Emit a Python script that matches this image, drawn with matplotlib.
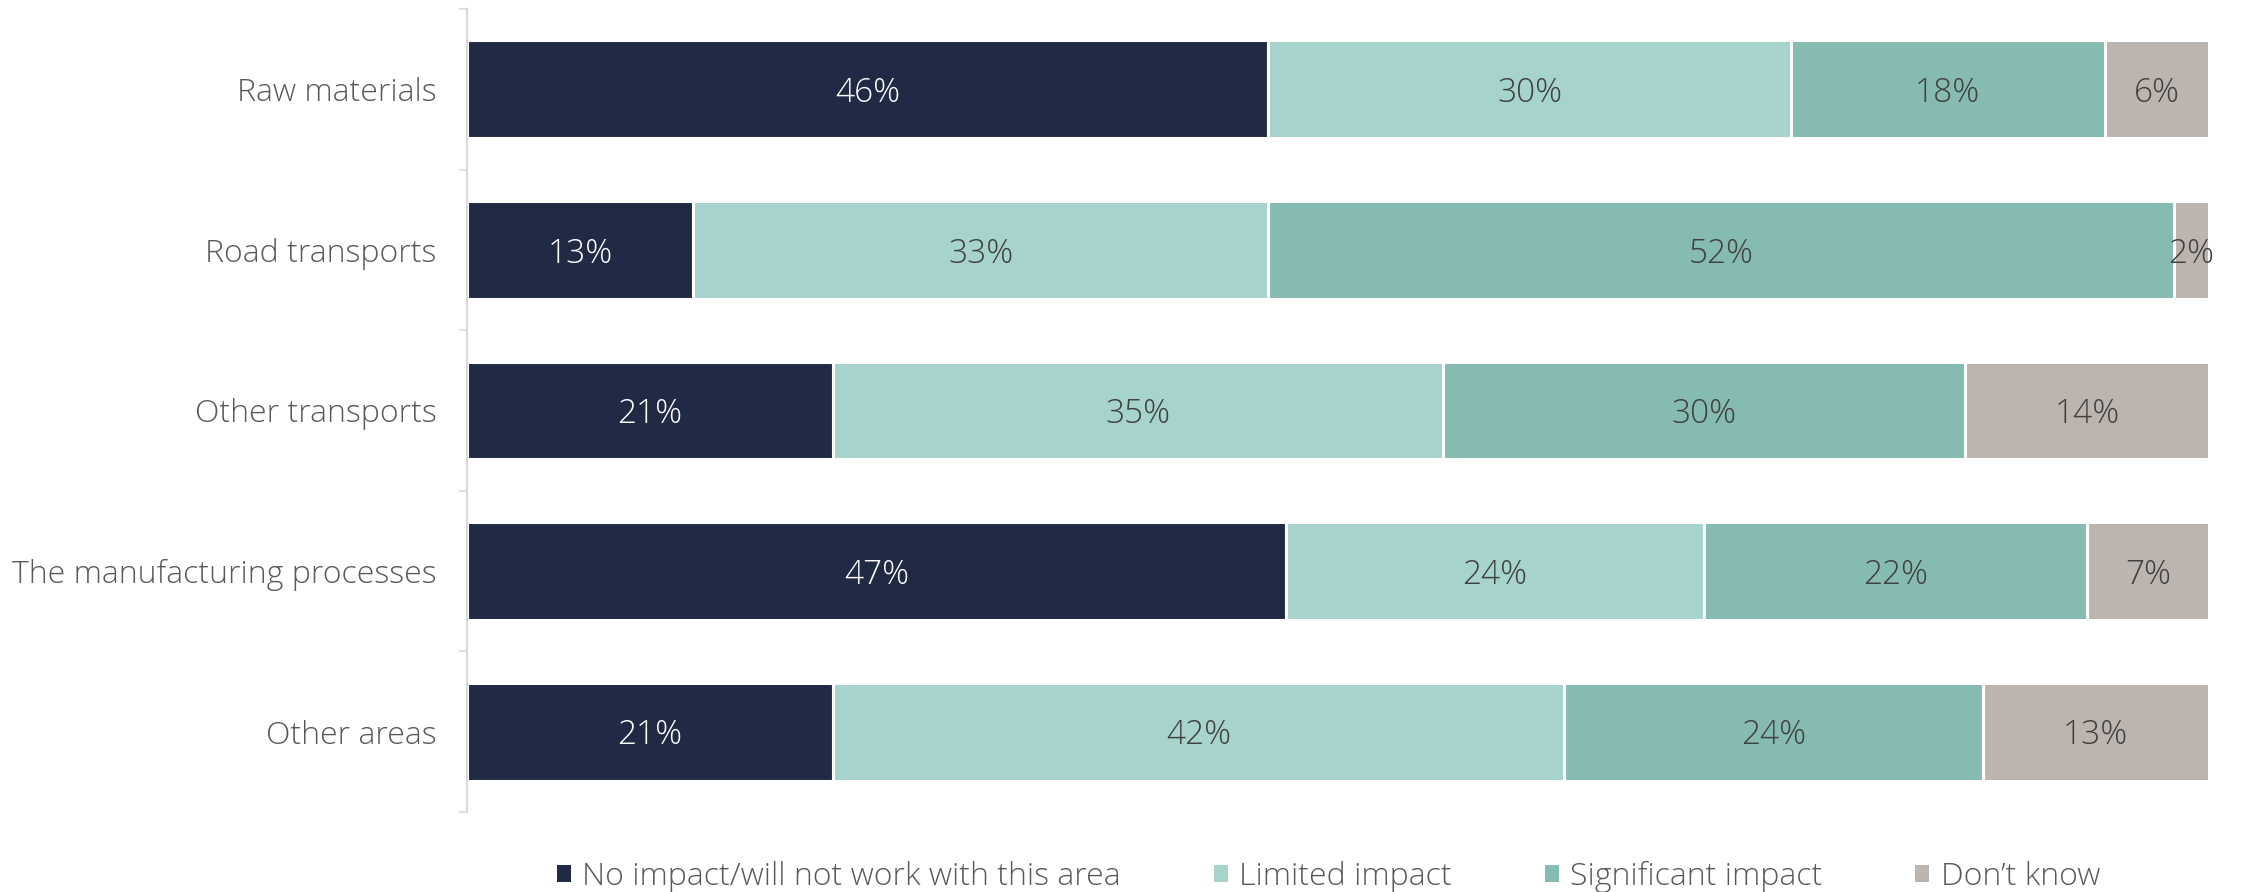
import matplotlib
matplotlib.use("Agg")
import matplotlib.pyplot as plt
import numpy as np

categories = ["Raw materials", "Road transports", "Other transports",
              "The manufacturing processes", "Other areas"]
series_names = ["No impact/will not work with this area", "Limited impact",
                "Significant impact", "Don\u2019t know"]
no_impact = [46, 13, 21, 47, 21]
limited = [30, 33, 35, 24, 42]
significant = [18, 52, 30, 22, 24]
dont_know = [6, 2, 14, 7, 13]

colors = ["#212a45", "#a6d3cc", "#85bbb1", "#bcb4ae"]
label_colors = ["white", "#404040", "#404040", "#404040"]

plt.rcParams["font.family"] = ["Open Sans", "DejaVu Sans"]
FW = "light"

fig = plt.figure(figsize=(22.42, 8.92), dpi=100)
ax = fig.add_axes([0.2083, 0.0897, 0.9853 - 0.2083, 0.9899 - 0.0897])

y = np.arange(len(categories))
left = np.zeros(len(categories))
for vals, name, col, lc in zip([no_impact, limited, significant, dont_know],
                               series_names, colors, label_colors):
    vals = np.array(vals, dtype=float)
    bars = ax.barh(y, vals, left=left, height=0.61, color=col,
                   edgecolor="white", linewidth=2.2, label=name)
    for b, v in zip(bars, vals):
        ax.text(b.get_x() + b.get_width() / 2, b.get_y() + b.get_height() / 2,
                f"{int(v)}%", ha="center", va="center_baseline", color=lc,
                fontsize=24, fontweight=FW)
    left += vals

ax.set_xlim(0, 100)
ax.set_ylim(len(categories) - 0.5, -0.5)
ax.set_yticks(y)
ax.set_yticklabels(categories, fontsize=23, color="#595959", fontweight=FW)
ax.set_yticks(np.arange(-0.5, len(categories)), minor=True)
ax.tick_params(axis="y", which="major", length=0, pad=22)
ax.tick_params(axis="y", which="minor", length=6, width=1.2, color="#d9d9d9",
               direction="out")
ax.set_xticks([])
for s in ["top", "right", "bottom"]:
    ax.spines[s].set_visible(False)
ax.spines["left"].set_color("#d9d9d9")
ax.spines["left"].set_linewidth(1.5)

handles, labels = ax.get_legend_handles_labels()
leg = fig.legend(handles, labels, loc="center", ncol=4,
                 bbox_to_anchor=(0.5925, 1 - 877 / 892),
                 frameon=False, fontsize=23, handlelength=0.45, handleheight=0.45,
                 handletextpad=0.35, columnspacing=2.9)
for h in leg.legend_handles:
    h.set_linewidth(0)
for t in leg.get_texts():
    t.set_color("#595959")
    t.set_fontweight(FW)

fig.savefig("out.png", dpi=100, facecolor="white")
